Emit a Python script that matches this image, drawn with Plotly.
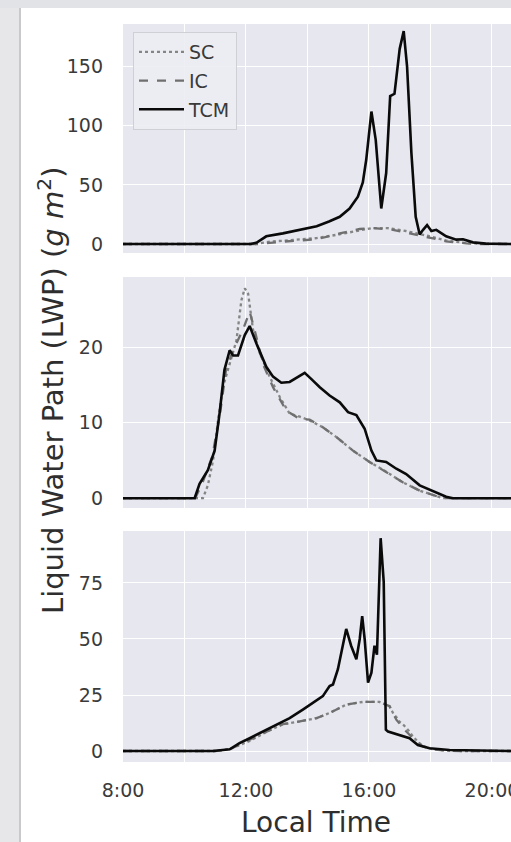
import plotly.graph_objects as go
from plotly.subplots import make_subplots

# ---------------- data (hours local time, LWP g m^-2) ----------------
# Panel 1
t1_tcm = [8, 12.15, 12.35, 12.5, 12.66, 13.2, 13.75, 14.3, 14.7, 15.05, 15.37, 15.64, 15.8, 15.91, 16.08,
          16.22, 16.4, 16.56, 16.69, 16.83, 17.0, 17.13, 17.24, 17.38, 17.52, 17.65, 17.76, 17.89,
          18.03, 18.19, 18.51, 18.84, 19.06, 19.38, 19.8, 20.62]
v1_tcm = [0, 0, 1.2, 3.5, 6.5, 9, 12, 15, 19, 23, 30, 40, 52, 71, 112,
          88, 30, 60, 125, 127, 165, 180, 150, 77, 23, 8, 12, 16,
          11, 12, 6.5, 3.7, 4, 1.4, 0.3, 0]
t1_sc = [8, 12.3, 12.8, 13.5, 14.3, 15.0, 15.6, 16.1, 16.6, 17.2, 17.9, 18.5, 19.1, 19.6, 20.62]
v1_sc = [0, 0, 2, 3.5, 5, 8, 11, 13.5, 13.5, 11, 7, 3, 1, 0.3, 0]
t1_ic = [8, 12.4, 13.2, 14.3, 15.05, 15.7, 16.13, 16.78, 17.32, 17.97, 18.51, 19.17, 19.6, 20.62]
v1_ic = [0, 0, 2, 4, 9, 12.7, 13.5, 12, 9, 5.6, 2.3, 0.5, 0, 0]

# Panel 2
t2_tcm = [8, 10.33, 10.49, 10.76, 10.98, 11.14, 11.3, 11.47, 11.58, 11.74, 11.96, 12.12, 12.34,
          12.66, 12.88, 13.15, 13.42, 13.69, 13.91, 14.12, 14.4, 14.72, 15.05, 15.32, 15.59,
          15.86, 16.08, 16.24, 16.56, 16.89, 17.21, 17.65, 18.08, 18.51, 18.73, 20.62]
v2_tcm = [0, 0, 1.9, 3.7, 6.3, 11.2, 17, 19.6, 18.9, 18.9, 21.6, 22.8, 20.5,
          17.4, 16.1, 15.3, 15.4, 16.1, 16.6, 15.8, 14.7, 13.6, 12.7, 11.4, 11.0,
          9.2, 6.3, 5.0, 4.8, 3.9, 3.2, 1.7, 1.0, 0.2, 0, 0]
t2_sc = [8, 10.6, 10.76, 10.93, 11.09, 11.25, 11.47, 11.69, 11.85, 11.96, 12.07, 12.23, 12.45,
         12.77, 13.1, 13.42, 13.75, 14.07, 14.5, 14.94, 15.48, 16.02, 16.56, 17.1, 17.65, 18.19,
         18.4, 20.62]
v2_sc = [0, 0, 1.7, 5, 10.3, 14.7, 17.8, 20.9, 26.2, 27.8, 27.1, 22.3, 19.2,
         16.1, 13.4, 11.2, 10.8, 10.3, 9.4, 8.1, 6.3, 4.8, 3.5, 2.1, 1.0, 0.35,
         0, 0]
t2_ic = [8, 10.35, 10.6, 10.9, 11.15, 11.35, 11.58, 11.9, 12.12, 12.28, 12.55, 12.88, 13.31,
         13.75, 14.07, 14.5, 14.94, 15.48, 16.02, 16.56, 17.1, 17.65, 18.19, 18.4, 20.62]
v2_ic = [0, 0, 2.2, 5.5, 11, 17, 19.6, 22.3, 24.7, 22.3, 17.8, 14.7, 11.6,
         10.5, 10.4, 9.4, 8.1, 6.3, 4.8, 3.5, 2.1, 1.0, 0.35, 0, 0]

# Panel 3
t3_tcm = [8, 10.93, 11.47, 11.79, 12.12, 12.55, 12.99, 13.42, 13.85, 14.18, 14.5, 14.72, 14.83,
          14.99, 15.15, 15.26, 15.42, 15.59, 15.7, 15.78, 15.86, 15.97, 16.08, 16.18, 16.26,
          16.38, 16.48, 16.55, 16.62, 17.0, 17.32, 17.59, 17.97, 18.62, 19.7, 20.62]
v3_tcm = [0, 0, 0.75, 3.5, 5.7, 8.7, 11.7, 14.7, 18.5, 21.5, 24.5, 29, 29.7,
          36.5, 47, 54.5, 47, 41, 50, 60.2, 50, 30.5, 35, 47, 43,
          95, 75.5, 9.5, 8.7, 7.2, 5.7, 2.7, 1.2, 0.45, 0.15, 0]
t3_sc = [8, 11.0, 11.5, 12.12, 12.66, 13.2, 13.75, 14.3, 14.72, 15.26, 15.8, 16.34, 16.67,
         16.8, 16.9, 17.0, 17.1, 17.2, 17.3, 17.43, 17.6, 17.76, 18.08, 18.51, 19.0, 20.62]
v3_sc = [0, 0, 1.0, 4.5, 8.5, 12, 13.2, 14.7, 17, 20.7, 21.9, 21.9, 20,
         16.5, 15, 13, 12, 10.5, 9, 6.5, 4, 2.2, 0.8, 0.15, 0, 0]
t3_ic = [8, 11.0, 11.5, 12.12, 12.66, 13.2, 13.75, 14.3, 14.72, 15.26, 15.8, 16.34, 16.67,
         16.89, 17.16, 17.43, 17.76, 18.08, 18.51, 19.0, 20.62]
v3_ic = [0, 0, 1.0, 5, 8.7, 12, 13.2, 14.7, 17, 20.7, 21.9, 21.9, 20,
         14, 9.5, 5.7, 2, 0.75, 0.15, 0, 0]

series_names = ["SC", "IC", "TCM"]
panels = [
    [(t1_sc, v1_sc), (t1_ic, v1_ic), (t1_tcm, v1_tcm)],
    [(t2_sc, v2_sc), (t2_ic, v2_ic), (t2_tcm, v2_tcm)],
    [(t3_sc, v3_sc), (t3_ic, v3_ic), (t3_tcm, v3_tcm)],
]
y_ranges = [[-7.6, 186], [-1.3, 29.3], [-4.9, 98.2]]
y_ticks = [[0, 50, 100, 150], [0, 10, 20], [0, 25, 50, 75]]
x_tickvals = [8, 12, 16, 20]
x_ticktext = ["8:00", "12:00", "16:00", "20:00"]
x_range = [8, 20.62]

# ---------------- styles ----------------
styles = {
    "SC": dict(color="#858585", width=2.3, dash="dot"),
    "IC": dict(color="#6f6f6f", width=2.3, dash="dash"),
    "TCM": dict(color="#0a0a0a", width=2.6, dash="solid"),
}
W, H = 511, 842
panel_px = [(24, 253), (277, 508), (531, 762)]
FONT = "DejaVu Sans"
TICKC = "#3a3a3a"
BG = "#E6E7EF"

fig = make_subplots(rows=3, cols=1, shared_xaxes=True)
for r, panel in enumerate(panels, start=1):
    for name, (t, v) in zip(series_names, panel):
        fig.add_trace(go.Scatter(x=t, y=v, mode="lines", name=name, line=styles[name],
                                 legendgroup=name, showlegend=(r == 1)), row=r, col=1)

for i, (top, bot) in enumerate(panel_px):
    yk = "yaxis" if i == 0 else f"yaxis{i+1}"
    xk = "xaxis" if i == 0 else f"xaxis{i+1}"
    fig.layout[yk].update(domain=[1 - bot / H, 1 - top / H], range=y_ranges[i],
                          tickmode="array", tickvals=y_ticks[i], showgrid=True,
                          gridcolor="white", gridwidth=1.3, zeroline=False, showline=False,
                          ticks="", ticklabelstandoff=19, automargin=False,
                          tickfont=dict(family=FONT, size=19, color=TICKC))
    fig.layout[xk].update(range=x_range, tickmode="array", tickvals=x_tickvals,
                          ticktext=x_ticktext, showgrid=True, gridcolor="white", gridwidth=1.3,
                          zeroline=False, showline=False, ticks="", automargin=False,
                          showticklabels=(i == 2), ticklabelstandoff=15,
                          ticklabeloverflow="allow",
                          minor=dict(dtick=2, tick0=8, showgrid=True, gridcolor="white",
                                     gridwidth=1.3, ticks=""),
                          tickfont=dict(family=FONT, size=19, color=TICKC))
    fig.layout[xk].domain = [123 / W, 1]

fig.update_layout(
    width=W, height=H, margin=dict(l=0, r=0, t=0, b=0, autoexpand=False),
    paper_bgcolor="white", plot_bgcolor=BG,
    font=dict(family=FONT, color=TICKC),
    legend=dict(x=133 / W, y=1 - 32 / H, xanchor="left", yanchor="top",
                bgcolor="rgba(236,237,243,0.9)", bordercolor="#cfd0d6", borderwidth=1,
                font=dict(family=FONT, size=19, color=TICKC), tracegroupgap=1,
                itemwidth=45),
    annotations=[
        dict(text="Liquid Water Path (LWP) (<i>g m</i><sup>2</sup>)", textangle=-90,
             xref="paper", yref="paper", x=51 / W, y=1 - 390 / H, showarrow=False,
             xanchor="center", yanchor="middle", font=dict(family=FONT, size=29, color="#2e2e2e")),
        dict(text="Local Time", xref="paper", yref="paper", x=316 / W, y=1 - 822 / H,
             showarrow=False, xanchor="center", yanchor="middle",
             font=dict(family=FONT, size=28, color="#2e2e2e")),
    ],
    shapes=[
        dict(type="rect", xref="paper", yref="paper", x0=0, x1=20 / W, y0=0, y1=1,
             fillcolor="#e7e7ea", line=dict(width=0), layer="below"),
        dict(type="rect", xref="paper", yref="paper", x0=0, x1=1, y0=1 - 8 / H, y1=1,
             fillcolor="#e1e3e6", line=dict(width=0), layer="below"),
        dict(type="line", xref="paper", yref="paper", x0=20 / W, x1=20 / W, y0=0, y1=1 - 8 / H,
             line=dict(color="#c9c9cd", width=2), layer="below"),
    ],
)

fig.write_html("out.html")
